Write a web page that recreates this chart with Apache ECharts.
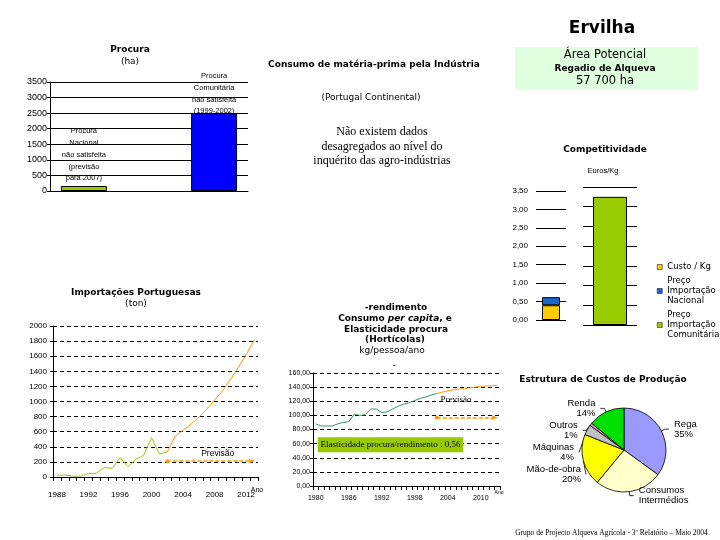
<!DOCTYPE html>
<html><head><meta charset="utf-8">
<script src="https://cdn.jsdelivr.net/npm/echarts@6/dist/echarts.min.js"></script>
<style>html,body{margin:0;padding:0;background:#fff}#c{width:720px;height:540px}</style>
</head><body><div id="c"></div>
<script>
// ---------- data ----------
const procuraNames = ['Procura Nacional não satisfeita (previsão para 2007)', 'Procura Comunitária não satisfeita (1999-2002)'];
const procuraLabels = ['Procura\nNacional\nnão satisfeita\n(previsão\npara 2007)', 'Procura\nComunitária\nnão satisfeita\n(1999-2002)'];
const procuraValues = [160, 2500];

const compNames = ['Custo / Kg', 'Preço Importação Nacional', 'Preço Importação Comunitária'];
const compCusto = [0.40];
const compNacional = [0.22];
const compComunitaria = [3.25];

const importYears = ['1988','1989','1990','1991','1992','1993','1994','1995','1996','1997','1998','1999','2000','2001','2002','2003','2004','2005','2006','2007','2008','2009','2010','2011','2012','2013'];
const importHist = [25, 25, 12, 10, 45, 50, 125, 115, 255, 140, 235, 290, 520, 305, 330]; // 1988-2002
const importForecast = [330, 540, 620, 700, 790, 900, 1020, 1140, 1290, 1450, 1620, 1810]; // 2002-2013
const importPrevisao = 210;

const consumoYears = ['1980','1981','1982','1983','1984','1985','1986','1987','1988','1989','1990','1991','1992','1993','1994','1995','1996','1997','1998','1999','2000','2001','2002','2003','2004','2005','2006','2007','2008','2009','2010','2011','2012','2013'];
const consumoHist = [88, 85, 85, 85, 88, 90, 91, 102, 100, 101, 109, 109, 104, 105, 109, 113, 116, 118, 121, 124, 126, 129, 131]; // 1980-2002
const consumoForecast = [131, 133, 134.5, 136, 137, 138, 139, 140, 141, 141.5, 142, 142.5]; // 2002-2013
const consumoPrevisao = 97;
const elasticidade = '0,56';

const custoNames = ['Rega', 'Consumos Intermédios', 'Mão-de-obra', 'Máquinas', 'Outros', 'Renda'];
const custoValues = [35, 26, 20, 4, 1, 14];
const custoColors = ['#9999ff', '#ffffcc', '#ffff00', '#c0c0c0', '#ff99cc', '#00e000'];

// ---------- helpers ----------
const SANS = "'Liberation Sans',Arial,sans-serif";
const VERD = "'DejaVu Sans',Verdana,sans-serif";
const SERIF = "'Liberation Serif','Times New Roman',serif";
function pad(arr, start, total) {
  const out = new Array(total).fill(null);
  arr.forEach((v, i) => { out[start + i] = v; });
  return out;
}
function txt(text, x, y, font, extra) {
  return {
    type: 'text', silent: true,
    style: Object.assign({ text: text, x: x, y: y, font: font, fill: '#000',
      align: 'center', verticalAlign: 'middle', textAlign: 'center', textVerticalAlign: 'middle' }, extra || {})
  };
}
const comma2 = v => v.toFixed(2).replace('.', ',');
const plain = v => String(v);
const blackLine = { lineStyle: { color: '#000', width: 1 } };

const chart = echarts.init(document.getElementById('c'), null, { renderer: 'canvas' });

const option = {
  animation: false,
  backgroundColor: '#fff',
  grid: [
    { left: 50, top: 82, width: 198, height: 109 },     // 0 Procura
    { left: 536, top: 191, width: 30, height: 129 },    // 1 Competitividade (esq.)
    { left: 583, top: 187, width: 54, height: 138 },    // 2 Competitividade (dir.)
    { left: 53, top: 326, width: 205, height: 151 },    // 3 Importações
    { left: 313, top: 373, width: 187, height: 113 }    // 4 Consumo
  ],
  xAxis: [
    { gridIndex: 0, type: 'category', data: [''], axisLine: { show: true, lineStyle: { color: '#000' } }, axisTick: { show: false }, axisLabel: { show: false } },
    { gridIndex: 1, type: 'category', data: [''], axisLine: { show: false }, axisTick: { show: false }, axisLabel: { show: false } },
    { gridIndex: 2, type: 'category', data: [''], axisLine: { show: false }, axisTick: { show: false }, axisLabel: { show: false } },
    { gridIndex: 3, type: 'category', data: importYears, boundaryGap: true,
      axisLine: { lineStyle: { color: '#000' } },
      axisTick: { show: true, interval: 0, length: 4, lineStyle: { color: '#000' } },
      axisLabel: { interval: 3, margin: 14, color: '#000', fontFamily: SANS, fontSize: 8 } },
    { gridIndex: 4, type: 'category', data: consumoYears, boundaryGap: true,
      axisLine: { lineStyle: { color: '#000' } },
      axisTick: { show: true, interval: 0, length: 4, lineStyle: { color: '#000' } },
      axisLabel: { interval: 5, margin: 9, color: '#000', fontFamily: SANS, fontSize: 7 } }
  ],
  yAxis: [
    { gridIndex: 0, type: 'value', min: 0, max: 3500, interval: 500,
      axisLine: { show: true, lineStyle: { color: '#000' } },
      axisTick: { show: true, length: 3, lineStyle: { color: '#000' } },
      axisLabel: { margin: 3, color: '#000', fontFamily: SANS, fontSize: 9, formatter: plain },
      splitLine: blackLine },
    { gridIndex: 1, type: 'value', min: 0, max: 3.5, interval: 0.5,
      axisLine: { show: false }, axisTick: { show: false },
      axisLabel: { margin: 8, color: '#000', fontFamily: SANS, fontSize: 8, formatter: comma2 },
      splitLine: blackLine },
    { gridIndex: 2, type: 'value', min: 0, max: 3.5, interval: 0.5,
      axisLine: { show: false }, axisTick: { show: false }, axisLabel: { show: false },
      splitLine: blackLine },
    { gridIndex: 3, type: 'value', min: 0, max: 2000, interval: 200,
      axisLine: { show: true, lineStyle: { color: '#000' } },
      axisTick: { show: true, length: 3, lineStyle: { color: '#000' } },
      axisLabel: { margin: 6, color: '#000', fontFamily: SANS, fontSize: 8, formatter: plain },
      splitLine: { lineStyle: { color: '#000', type: [4, 3], width: 1 } } },
    { gridIndex: 4, type: 'value', min: 0, max: 160, interval: 20,
      axisLine: { show: true, lineStyle: { color: '#000' } },
      axisTick: { show: true, length: 3, lineStyle: { color: '#000' } },
      axisLabel: { margin: 3, color: '#000', fontFamily: SANS, fontSize: 7, formatter: comma2 },
      splitLine: { lineStyle: { color: '#000', type: [4, 3], width: 1 } } }
  ],
  legend: {
    orient: 'vertical', left: 652, top: 257, itemWidth: 5, itemHeight: 5, itemGap: 4,
    icon: 'rect', selectedMode: false, data: compNames,
    formatter: n => n.replace(' Importação ', '\nImportação\n'),
    itemStyle: { borderColor: '#000', borderWidth: 0.5 },
    textStyle: { fontFamily: VERD, fontSize: 8.5, lineHeight: 10, color: '#000' }
  },
  series: [
    { type: 'bar', name: procuraNames[0], xAxisIndex: 0, yAxisIndex: 0, data: [procuraValues[0]],
      barWidth: 46, barGap: '183%',
      itemStyle: { color: '#99cc00', borderColor: '#000', borderWidth: 1 },
      label: { show: true, position: 'top', distance: 2, formatter: () => procuraLabels[0],
        fontFamily: SANS, fontSize: 7.5, lineHeight: 11.7, color: '#000' } },
    { type: 'bar', name: procuraNames[1], xAxisIndex: 0, yAxisIndex: 0, data: [procuraValues[1]],
      barWidth: 46, barGap: '183%',
      itemStyle: { color: '#0000ff', borderColor: '#000', borderWidth: 1 },
      label: { show: true, position: 'top', distance: -4, formatter: () => procuraLabels[1],
        fontFamily: SANS, fontSize: 7.5, lineHeight: 11.7, color: '#000' } },

    { type: 'bar', name: compNames[0], xAxisIndex: 1, yAxisIndex: 1, stack: 'c', data: compCusto, barWidth: 18,
      itemStyle: { color: '#ffcc00', borderColor: '#000', borderWidth: 1 } },
    { type: 'bar', name: compNames[1], xAxisIndex: 1, yAxisIndex: 1, stack: 'c', data: compNacional, barWidth: 18,
      itemStyle: { color: '#1a66cc', borderColor: '#000', borderWidth: 1 } },
    { type: 'bar', name: compNames[2], xAxisIndex: 2, yAxisIndex: 2, data: compComunitaria, barWidth: 34,
      itemStyle: { color: '#99cc00', borderColor: '#000', borderWidth: 1 } },

    { type: 'line', name: 'Importações', xAxisIndex: 3, yAxisIndex: 3, data: pad(importHist, 0, importYears.length),
      showSymbol: false, lineStyle: { color: '#99cc00', width: 1 }, itemStyle: { color: '#99cc00' } },
    { type: 'line', name: 'Importações (previsão)', xAxisIndex: 3, yAxisIndex: 3,
      data: pad(importForecast, importYears.indexOf('2002'), importYears.length),
      showSymbol: false, lineStyle: { color: '#ff9900', width: 1 }, itemStyle: { color: '#ff9900' },
      markLine: { silent: true, symbol: ['circle', 'arrow'], symbolSize: [4, 6],
        lineStyle: { color: '#ff9900', type: [4, 2], width: 1.5 },
        label: { show: true, position: 'insideMiddleTop', distance: 3, formatter: 'Previsão',
          fontFamily: SANS, fontSize: 8.5, color: '#000', padding: [0, 0, 0, 14] },
        data: [[{ coord: ['2002', importPrevisao] }, { coord: ['2013', importPrevisao] }]] } },

    { type: 'line', name: 'Consumo per capita', xAxisIndex: 4, yAxisIndex: 4, data: pad(consumoHist, 0, consumoYears.length),
      showSymbol: false, lineStyle: { color: '#339966', width: 1 }, itemStyle: { color: '#339966' } },
    { type: 'line', name: 'Consumo (previsão)', xAxisIndex: 4, yAxisIndex: 4,
      data: pad(consumoForecast, consumoYears.indexOf('2002'), consumoYears.length),
      showSymbol: false, lineStyle: { color: '#ff9900', width: 1 }, itemStyle: { color: '#ff9900' },
      markLine: { silent: true, symbol: ['circle', 'arrow'], symbolSize: [4, 6],
        lineStyle: { color: '#ff9900', type: [4, 2], width: 1.5 },
        label: { show: true, position: 'insideMiddleTop', distance: 13, formatter: 'Previsão',
          fontFamily: SERIF, fontSize: 9, color: '#000', padding: [0, 22, 0, 0] },
        data: [[{ coord: ['2002', consumoPrevisao] }, { coord: ['2013', consumoPrevisao] }]] } },

    { type: 'pie', name: 'Estrutura de Custos de Produção', center: [624, 450], radius: [0, 42],
      startAngle: 90, clockwise: true,
      data: custoNames.map((n, i) => ({ name: n, value: custoValues[i], itemStyle: { color: custoColors[i] } })),
      itemStyle: { borderColor: '#000', borderWidth: 0.8 },
      label: { show: true, fontFamily: SANS, fontSize: 9.5, lineHeight: 10, color: '#000',
        formatter: p => p.name === 'Consumos Intermédios' ? 'Consumos\nIntermédios' : p.name + '\n' + p.value + '%' },
      labelLine: { show: true, length: 4, length2: 4, lineStyle: { color: '#000', width: 0.8 } } }
  ],
  graphic: [
    txt('Ervilha', 602, 29, 'bold 17px ' + VERD),
    { type: 'rect', silent: true, z: -1, shape: { x: 515, y: 47, width: 183, height: 43 }, style: { fill: '#dfffdf' } },
    txt('Área Potencial', 605, 55, '11.5px ' + VERD),
    txt('Regadio de Alqueva', 605, 69, 'bold 9px ' + VERD),
    txt('57 700 ha', 605, 81, '11.5px ' + VERD),

    txt('Procura', 130, 50, 'bold 9px ' + VERD),
    txt('(ha)', 130, 61.5, '9px ' + VERD),

    txt('Consumo de matéria-prima pela Indústria', 374, 65, 'bold 9px ' + VERD),
    txt('(Portugal Continental)', 371, 98, '9px ' + VERD),
    txt('Não existem dados', 382, 131.5, '12px ' + SERIF),
    txt('desagregados ao nível do', 382, 146.5, '12px ' + SERIF),
    txt('inquérito das agro-indústrias', 382, 161, '12px ' + SERIF),

    txt('Competitividade', 605, 150, 'bold 9px ' + VERD),
    txt('Euros/Kg', 603, 171, '7.5px ' + SANS),

    txt('Importações Portuguesas', 136, 292.5, 'bold 9px ' + VERD),
    txt('(ton)', 136, 303.5, '9px ' + VERD),
    txt('Ano', 257, 490, '7px ' + SANS),

    txt('-rendimento', 396, 308, 'bold 9px ' + VERD),
    { type: 'text', silent: true, style: { x: 395, y: 319, align: 'center', verticalAlign: 'middle', textAlign: 'center', textVerticalAlign: 'middle',
        text: '{b|Consumo }{i|per capita}{b|, e}',
        rich: { b: { font: 'bold 9px ' + VERD, fill: '#000' }, i: { font: 'italic bold 9px ' + VERD, fill: '#000' } } } },
    txt('Elasticidade procura', 396, 329.5, 'bold 9px ' + VERD),
    txt('(Hortícolas)', 395, 340, 'bold 9px ' + VERD),
    txt('kg/pessoa/ano', 392, 350.5, '9px ' + VERD),
    txt('-', 394, 366, '9px ' + VERD),
    txt('Ano', 499, 493, '5px ' + SANS),
    { type: 'rect', silent: true, z: 10, shape: { x: 318, y: 437.5, width: 145, height: 14.5 }, style: { fill: '#99cc00', stroke: '#8fbf00', lineWidth: 0.5 } },
    Object.assign(txt('Elasticidade procura/rendimento : ' + elasticidade, 390.5, 445, '9px ' + SERIF), { z: 11 }),

    txt('Estrutura de Custos de Produção', 603, 380, 'bold 9px ' + VERD),

    txt('Grupo de Projecto Alqueva Agrícola - 3º Relatório – Maio 2004', 611.5, 533, '7.5px ' + SERIF)
  ]
};
chart.setOption(option);
</script>
</body></html>
